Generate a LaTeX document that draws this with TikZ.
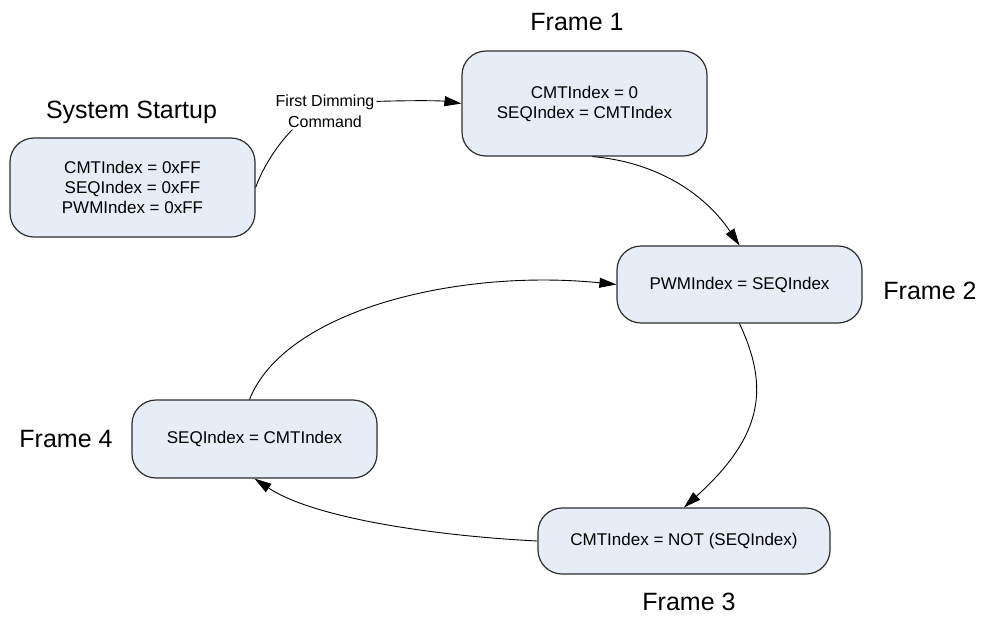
\documentclass[tikz,border=0pt]{standalone}
\usepackage{fontspec}
\setmainfont{Liberation Sans}
\usetikzlibrary{arrows.meta,calc}
\definecolor{boxfill}{HTML}{E7EDF7}
\definecolor{boxline}{HTML}{2E2E2E}
\begin{document}
\begin{tikzpicture}[x=1pt,y=-1pt,
  state/.style={draw=boxline,fill=boxfill,line width=1.2pt,rounded corners=24pt,
    minimum width=245pt,align=center,inner sep=0pt,
    font=\fontsize{17}{20}\selectfont},
  title/.style={font=\fontsize{25}{30}\selectfont,inner sep=0pt},
  cmdlabel/.style={font=\fontsize{16}{21}\selectfont,align=center,inner sep=0pt},
  link/.style={line width=0.9pt,-{Triangle[length=17pt,width=10pt]}},
  plainlink/.style={line width=0.9pt}]
\useasboundingbox (0,0) rectangle (987,619);

% states
\node[state,minimum height=99pt]  (start) at (132.5,187.5) {CMTIndex = 0xFF\\SEQIndex = 0xFF\\PWMIndex = 0xFF};
\node[state,minimum height=105pt] (f1) at (584.5,103.5) {CMTIndex = 0\\SEQIndex = CMTIndex};
\node[state,minimum height=77pt]  (f2) at (739.5,284.5) {PWMIndex = SEQIndex};
\node[state,minimum height=66pt,minimum width=292pt] (f3) at (684,541) {CMTIndex = NOT (SEQIndex)};
\node[state,minimum height=78pt]  (f4) at (254.5,439) {SEQIndex = CMTIndex};

% titles
\node[title] (tstart) at (131.5,112) {System Startup};
\node[title] (t1) at (577,22) {Frame 1};
\node[title] (t2) at (930,291) {Frame 2};
\node[title] (t3) at (689,602) {Frame 3};
\node[title] (t4) at (66,439) {Frame 4};

% transition label
\node[cmdlabel] (cmd) at (325,111) {First Dimming\\Command};
\coordinate (cmdin) at ($(cmd.south west)+(17,2)$);
\coordinate (cmdout) at ($(cmd.north east)+(2,7)$);

% transitions
\draw[plainlink] (start.east) .. controls ($(start.east)+(8,-22)$) and ($(cmdin)+(-14,14)$) .. (cmdin);
\draw[link] (cmdout) .. controls ($(cmdout)+(31,-1)$) and ($(f1.west)+(-22,-3)$) .. (f1.west);
\draw[link] ([xshift=8pt]f1.south) .. controls ($(f1.south)+(68,5)$) and ($(f2.north)+(-37,-55)$) .. (f2.north);
\draw[link] (f2.south) .. controls ($(f2.south)+(29,62)$) and ($(f3.north)+(81,-73)$) .. (f3.north);
\draw[link] (f3.west) .. controls ($(f3.west)+(-100,-5)$) and ($(f4.south)+(60,40)$) .. (f4.south);
\draw[link] ([xshift=-5pt]f4.north) .. controls ($(f4.north)+(31,-90)$) and ($(f2.west)+(-157,-16)$) .. (f2.west);
\end{tikzpicture}
\end{document}
